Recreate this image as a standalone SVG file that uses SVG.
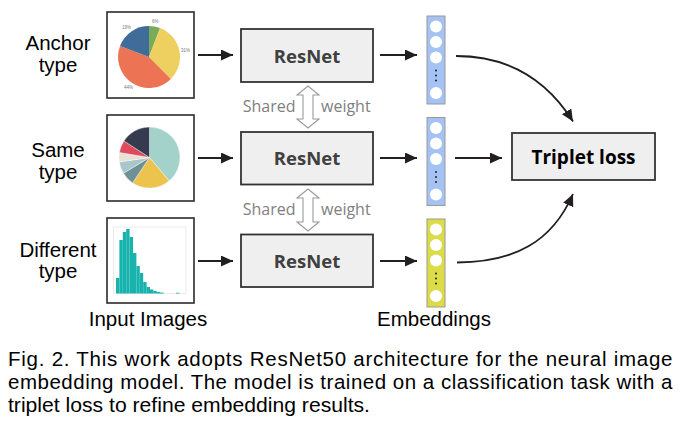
<svg xmlns="http://www.w3.org/2000/svg" width="681" height="428" viewBox="0 0 681 428">
<defs>
<style>
.lbl{font-family:"Liberation Sans",Arial,sans-serif;font-size:20.5px;fill:#000;text-anchor:middle}
.cap{font-family:"Liberation Sans",Arial,sans-serif;font-size:20.5px;fill:#000}
.imgbox{fill:#fff;stroke:#2b2b2b;stroke-width:1.6}
.rn{fill:#efefef;stroke:#333;stroke-width:1.8}
.rnt{font-family:"Open Sans","DejaVu Sans",sans-serif;font-weight:bold;font-size:18.5px;fill:#404040;text-anchor:middle}
.sw{font-family:"Open Sans","DejaVu Sans",sans-serif;font-size:16px;fill:#808080}
.dbl{fill:#fff;stroke:#9a9a9a;stroke-width:1.1}
.conn{fill:none;stroke:#231f20;stroke-width:1.8}
.colb{fill:#a4c2f4;stroke:#9a9a9a;stroke-width:1}
.coly{fill:#dbdc47;stroke:#9a9a9a;stroke-width:1}
.cir{fill:#fff}
.dot{fill:#222}
.pl{font-family:"Liberation Sans",Arial,sans-serif;font-size:4.5px;fill:#777}
.bar{fill:#19b3ae}
</style>
<marker id="ah" markerUnits="userSpaceOnUse" markerWidth="12" markerHeight="11" viewBox="0 0 12 11" refX="12" refY="5.5" orient="auto">
<path d="M0,0 L12,5.5 L0,11 Z" fill="#231f20"/>
</marker>
<g id="column">
<circle class="cir" cx="0" cy="10.5" r="6"/>
<circle class="cir" cx="0" cy="26" r="6"/>
<circle class="cir" cx="0" cy="41.5" r="6"/>
<circle class="dot" cx="0" cy="54.5" r="1"/>
<circle class="dot" cx="0" cy="59.5" r="1"/>
<circle class="dot" cx="0" cy="64.5" r="1"/>
<circle class="cir" cx="0" cy="77" r="6"/>
</g>
</defs>
<rect width="681" height="428" fill="#fff"/>

<g id="anchor-label"><text class="lbl" x="58" y="49.5">Anchor</text><text class="lbl" x="58" y="71.5">type</text></g>
<g id="same-label"><text class="lbl" x="58" y="157">Same</text><text class="lbl" x="58" y="178.5">type</text></g>
<g id="different-label"><text class="lbl" x="58" y="256.5">Different</text><text class="lbl" x="58" y="278">type</text></g>

<g id="anchor-image">
<rect class="imgbox" x="107" y="12" width="87" height="86"/>
<path d="M149,57 L149,26 A31,31 0 0 1 160.1,28.05 Z" fill="#7aab5a"/>
<path d="M149,57 L160.1,28.05 A31,31 0 0 1 170.9,78.9 Z" fill="#edd060"/>
<path d="M149,57 L170.9,78.9 A31,31 0 0 1 120.05,45.9 Z" fill="#ec7455"/>
<path d="M149,57 L120.05,45.9 A31,31 0 0 1 149,26 Z" fill="#3f6c99"/>
<text class="pl" x="122" y="29">19%</text>
<text class="pl" x="152" y="23">6%</text>
<text class="pl" x="181" y="52">31%</text>
<text class="pl" x="124" y="89">44%</text>
</g>

<g id="same-image">
<rect class="imgbox" x="107" y="115" width="87" height="86"/>
<g stroke="#fff" stroke-width="0.4">
<path d="M149.5,157.5 L149.5,127 A30.5,30.5 0 0 1 169.1,180.9 Z" fill="#a3d2ca"/>
<path d="M149.5,157.5 L169.1,180.9 A30.5,30.5 0 0 1 132.6,182.9 Z" fill="#ecc34d"/>
<path d="M149.5,157.5 L132.6,182.9 A30.5,30.5 0 0 1 123.4,173.2 Z" fill="#6f9096"/>
<path d="M149.5,157.5 L123.4,173.2 A30.5,30.5 0 0 1 119.3,161.95 Z" fill="#a9c6ca"/>
<path d="M149.5,157.5 L119.3,161.95 A30.5,30.5 0 0 1 119.4,152.5 Z" fill="#e8e1d6"/>
<path d="M149.5,157.5 L119.4,152.5 A30.5,30.5 0 0 1 123.9,140.9 Z" fill="#e04a5c"/>
<path d="M149.5,157.5 L123.9,140.9 A30.5,30.5 0 0 1 149.5,127 Z" fill="#363b50"/>
</g>
</g>

<g id="different-image">
<rect class="imgbox" x="107" y="218" width="87" height="85"/>
<rect x="113.5" y="227" width="72.5" height="66.5" fill="none" stroke="#dcdcdc" stroke-width="0.6"/>
<rect class="bar" x="116" y="278" width="3.4" height="15.5"/>
<rect class="bar" x="119.4" y="240" width="3.4" height="53.5"/>
<rect class="bar" x="122.8" y="232" width="3.4" height="61.5"/>
<rect class="bar" x="126.2" y="229" width="3.4" height="64.5"/>
<rect class="bar" x="129.6" y="237" width="3.4" height="56.5"/>
<rect class="bar" x="133" y="253" width="3.4" height="40.5"/>
<rect class="bar" x="136.4" y="266" width="3.4" height="27.5"/>
<rect class="bar" x="139.8" y="273" width="3.4" height="20.5"/>
<rect class="bar" x="143.2" y="282" width="3.4" height="11.5"/>
<rect class="bar" x="146.6" y="287" width="3.4" height="6.5"/>
<rect class="bar" x="150" y="289.5" width="3.4" height="4"/>
<rect class="bar" x="153.4" y="291" width="3.4" height="2.5"/>
<rect class="bar" x="156.8" y="292" width="3.4" height="1.5"/>
<rect class="bar" x="160.2" y="292.5" width="3.4" height="1"/>
<rect class="bar" x="176" y="292.7" width="3.4" height="0.8"/>
</g>

<g id="resnet-1"><rect class="rn" x="241" y="29" width="132" height="53"/><text class="rnt" x="307" y="62.5">ResNet</text></g>
<g id="resnet-2"><rect class="rn" x="241" y="132" width="132" height="52.5"/><text class="rnt" x="307" y="165">ResNet</text></g>
<g id="resnet-3"><rect class="rn" x="241" y="234.5" width="132" height="52.5"/><text class="rnt" x="307" y="267.5">ResNet</text></g>

<g id="shared-weight-1">
<path class="dbl" d="M308,86 L319,95 L313,95 L313,119 L319,119 L308,128 L297,119 L303,119 L303,95 L297,95 Z"/>
<text class="sw" x="295.5" y="111.5" text-anchor="end">Shared</text>
<text class="sw" x="321" y="111.5">weight</text>
</g>
<g id="shared-weight-2">
<path class="dbl" d="M308,189 L319,198 L313,198 L313,222 L319,222 L308,231 L297,222 L303,222 L303,198 L297,198 Z"/>
<text class="sw" x="295.5" y="214.5" text-anchor="end">Shared</text>
<text class="sw" x="321" y="214.5">weight</text>
</g>

<g id="embedding-1"><rect class="colb" x="427" y="16" width="18" height="88"/><use href="#column" x="436" y="16"/></g>
<g id="embedding-2"><rect class="colb" x="427" y="117.5" width="18" height="88"/><use href="#column" x="436" y="117.5"/></g>
<g id="embedding-3"><rect class="coly" x="427" y="219" width="18" height="88"/><use href="#column" x="436" y="219"/></g>

<g id="triplet-loss"><rect class="rn" x="512" y="133" width="143" height="47"/><text x="583.5" y="164" text-anchor="middle" font-family="'Open Sans','DejaVu Sans',sans-serif" font-weight="bold" font-size="19" fill="#000">Triplet loss</text></g>

<g id="axis-labels">
<text class="lbl" x="148" y="325.5">Input Images</text>
<text class="lbl" x="434" y="326">Embeddings</text>
</g>

<g id="connectors">
<path class="conn" d="M198,55 L233,55" marker-end="url(#ah)"/>
<path class="conn" d="M198,158 L233,158" marker-end="url(#ah)"/>
<path class="conn" d="M198,261 L233,261" marker-end="url(#ah)"/>
<path class="conn" d="M380,55 L417,55" marker-end="url(#ah)"/>
<path class="conn" d="M380,158 L417,158" marker-end="url(#ah)"/>
<path class="conn" d="M380,261 L417,261" marker-end="url(#ah)"/>
<path class="conn" d="M455,158 L502,158" marker-end="url(#ah)"/>
<path class="conn" d="M456,56 C515,56 550,85 573,121.5" marker-end="url(#ah)"/>
<path class="conn" d="M457,262.5 C515,262 552,242 573,194" marker-end="url(#ah)"/>
</g>

<g id="caption">
<text class="cap" x="8" y="366" textLength="664.5" lengthAdjust="spacing">Fig. 2. This work adopts ResNet50 architecture for the neural image</text>
<text class="cap" x="8" y="389.3" textLength="664.5" lengthAdjust="spacing">embedding model. The model is trained on a classification task with a</text>
<text class="cap" x="8" y="411.7" textLength="362" lengthAdjust="spacingAndGlyphs">triplet loss to refine embedding results.</text>
</g>
</svg>
